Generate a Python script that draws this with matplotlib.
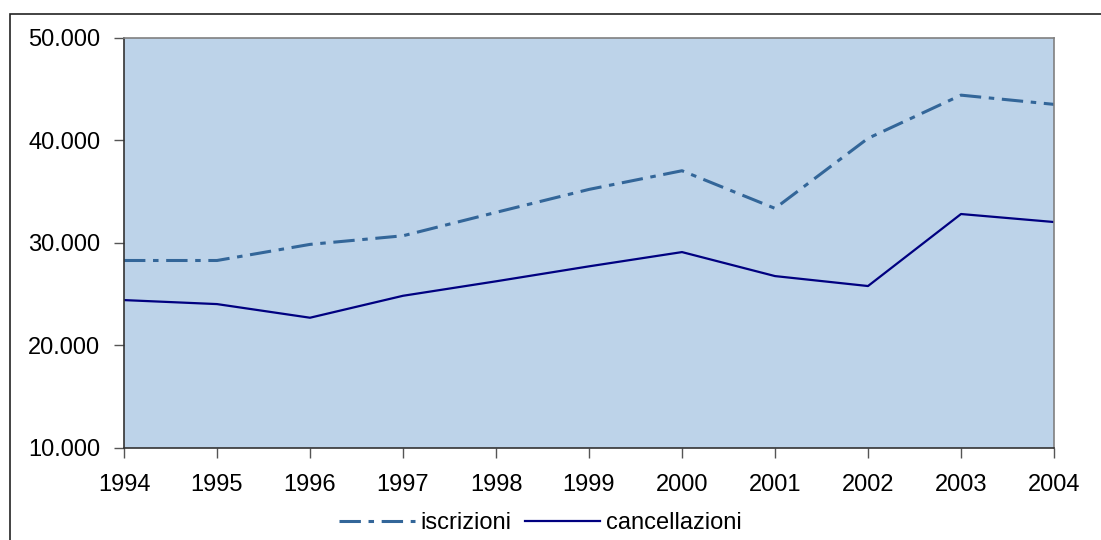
import numpy as np
import matplotlib
matplotlib.use("Agg")
import matplotlib.pyplot as plt
from matplotlib.ticker import FuncFormatter
from matplotlib.patches import Rectangle

anni = [1994, 1995, 1996, 1997, 1998, 1999, 2000, 2001, 2002, 2003, 2004]
iscrizioni = [28280, 28280, 29850, 30690, 32970, 35210, 37030, 33360, 40190, 44400, 43500]
cancellazioni = [24420, 24030, 22700, 24840, 26250, 27710, 29100, 26760, 25790, 32810, 32030]

plt.rcParams['font.family'] = ['Liberation Sans', 'DejaVu Sans']

fig = plt.figure(figsize=(11.01, 5.40), dpi=100)
ax = fig.add_axes([124 / 1101, 1 - 448 / 540, (1054 - 124) / 1101, (448 - 37.7) / 540])
ax.set_facecolor('#BDD3E9')

ax.plot(anni, iscrizioni, color='#336699', lw=2.2,
        linestyle=(0, (7, 2.5, 1.8, 2.5)), label='iscrizioni')
ax.plot(anni, cancellazioni, color='#000080', lw=1.6, label='cancellazioni')

ax.set_xlim(1994, 2004)
ax.set_ylim(10000, 50000)
ax.set_xticks(anni)
ax.set_yticks([10000, 20000, 30000, 40000, 50000])
ax.yaxis.set_major_formatter(FuncFormatter(lambda v, p: f"{int(v):,}".replace(',', '.')))

for s in ['top', 'right']:
    ax.spines[s].set_color('#808080')
    ax.spines[s].set_linewidth(1.2)
for s in ['left', 'bottom']:
    ax.spines[s].set_color('#333333')
    ax.spines[s].set_linewidth(1.2)

ax.tick_params(axis='both', direction='out', length=7, width=1, color='#555555', labelsize=17)
ax.tick_params(axis='y', pad=10)
ax.tick_params(axis='x', pad=12)

ax.legend(loc='center', bbox_to_anchor=(0.448, -0.183), ncol=2, frameon=False,
          fontsize=17, handlelength=3.2, handletextpad=0.25, columnspacing=0.55)

# cornice della figura
fig.patches.append(Rectangle((10 / 1101, -0.1), 1.2, 1 - 14 / 540 + 0.1,
                             transform=fig.transFigure, fill=False,
                             edgecolor='#222222', lw=1.2, clip_on=False))

fig.savefig('out.png', dpi=100)
